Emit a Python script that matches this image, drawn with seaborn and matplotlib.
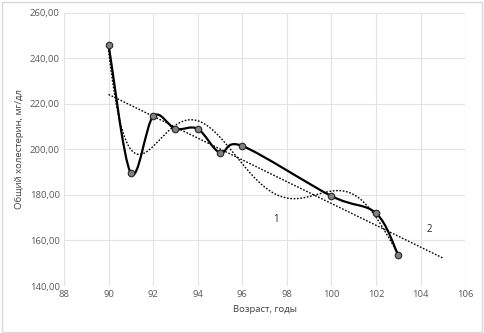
import numpy as np
import pandas as pd
import matplotlib
matplotlib.use("Agg")
import matplotlib.pyplot as plt
import seaborn as sns
from matplotlib.path import Path
from matplotlib.patches import PathPatch, Rectangle

# data
age = [90, 91, 92, 93, 94, 95, 96, 100, 102, 103]
chol = [246.0, 189.5, 214.5, 209.0, 209.0, 198.5, 201.5, 179.5, 172.0, 153.5]
x_ticks = [88, 90, 92, 94, 96, 98, 100, 102, 104, 106]
y_ticks = [140, 160, 180, 200, 220, 240, 260]

df = pd.DataFrame({"age": age, "chol": chol})

sns.set_theme(style="white")
plt.rcParams['font.family'] = ['Open Sans', 'DejaVu Sans']

fig = plt.figure(figsize=(4.85, 3.33), dpi=100)
ax = fig.add_axes([0.132, 0.141, 0.827, 0.821])

# trendlines (linear with forecast to 105, polynomial order 6)
xs = np.asarray(age, float)
ys = np.asarray(chol, float)
lin = np.polyfit(xs, ys, 1)
xl = np.array([90, 105])
ax.plot(xl, np.polyval(lin, xl), color="black", lw=1.0, ls=(0, (1.2, 1.2)), zorder=2)
xc = xs - xs.mean()
poly = np.polyfit(xc, ys, 6)
xp = np.linspace(90, 103, 300)
ax.plot(xp, np.polyval(poly, xp - xs.mean()), color="black", lw=1.0, ls=(0, (1.2, 1.2)), zorder=2)

# smoothed data line (Excel-style Bezier)
pts = np.column_stack([xs, ys])
verts = [pts[0]]
codes = [Path.MOVETO]
n = len(pts)
for i in range(n - 1):
    p0 = pts[i - 1] if i > 0 else pts[i]
    p1 = pts[i]
    p2 = pts[i + 1]
    p3 = pts[i + 2] if i + 2 < n else pts[i + 1]
    c1 = p1 + (p2 - p0) / 6
    c2 = p2 - (p3 - p1) / 6
    verts += [c1, c2, p2]
    codes += [Path.CURVE4] * 3
ax.add_patch(PathPatch(Path(verts, codes), fill=False, lw=1.6, ec="black", zorder=3))

sns.scatterplot(data=df, x="age", y="chol", ax=ax, color="#808080", edgecolor="#262626",
                linewidth=0.8, s=22, zorder=4, legend=False)

ax.text(97.5, 169, "1", fontsize=7, ha="center", va="center", color="#262626")
ax.text(104.4, 165, "2", fontsize=7, ha="center", va="center", color="#262626")

ax.set_xlim(88, 106)
ax.set_ylim(140, 260)
ax.set_xticks(x_ticks)
ax.set_yticks(y_ticks)
ax.set_yticklabels([f"{v:.2f}".replace(".", ",") for v in y_ticks])
ax.grid(True, color="#e3e3e3", lw=0.8)
ax.set_axisbelow(True)
for s in ax.spines.values():
    s.set_visible(False)
ax.tick_params(axis="both", labelsize=6.8, colors="#595959", length=0, pad=3)
ax.set_xlabel("Возраст, годы", fontsize=6.8, color="#404040", labelpad=4)
ax.set_ylabel("Общий холестерин, мг/дл", fontsize=6.8, color="#404040", labelpad=4)

fig.patches.append(Rectangle((0.004, 0.004), 0.99, 0.99, transform=fig.transFigure,
                             fill=False, ec="#d9d9d9", lw=1.0))

fig.savefig("out.png", dpi=100)
